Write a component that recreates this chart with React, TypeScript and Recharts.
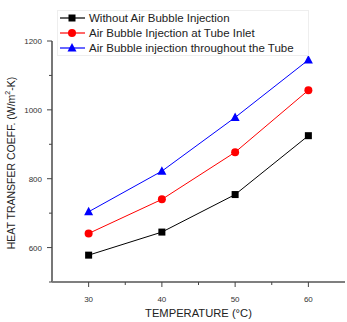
import React from "react";
import { LineChart, Line, XAxis, YAxis, Label } from "recharts";

const temps = [30, 40, 50, 60];
const withoutBubble = [578, 645, 754, 925];
const bubbleInlet = [641, 740, 877, 1057];
const bubbleThroughout = [704, 822, 978, 1145];

const xTicks = [30, 35, 40, 45, 50, 55, 60];
const yTicks = [500, 600, 700, 800, 900, 1000, 1100, 1200];

const seriesNames = [
  "Without Air Bubble Injection",
  "Air Bubble Injection at Tube Inlet",
  "Air Bubble injection throughout the Tube",
];

const data = temps.map((t, i) => ({
  t,
  a: withoutBubble[i],
  b: bubbleInlet[i],
  c: bubbleThroughout[i],
}));

const FONT = "Arial, 'Liberation Sans', sans-serif";

const Marker = ({ kind, cx, cy }: { kind: string; cx: number; cy: number }) => {
  if (kind === "square") return <rect x={cx - 3.5} y={cy - 3.5} width={7} height={7} fill="#000" />;
  if (kind === "circle") return <circle cx={cx} cy={cy} r={4} fill="#ff0000" />;
  return <polygon points={`${cx},${cy - 5} ${cx - 4.5},${cy + 3.5} ${cx + 4.5},${cy + 3.5}`} fill="#0000ff" />;
};

const dot = (kind: string) => (p: any) => <Marker key={`${kind}-${p.index}`} kind={kind} cx={p.cx} cy={p.cy} />;

const XTick = (p: any) => {
  const v = p.payload.value;
  const major = v % 10 === 0;
  return (
    <g>
      <line x1={p.x} x2={p.x} y1={p.y - 8} y2={p.y - 8 + (major ? 5 : 3)} stroke="#444" />
      {major && (
        <text x={p.x} y={p.y + 12} textAnchor="middle" fontSize={8} fill="#333" fontFamily={FONT}>{v}</text>
      )}
    </g>
  );
};

const YTick = (p: any) => {
  const v = p.payload.value;
  const major = v % 200 === 0 && v !== 500;
  return (
    <g>
      <line x1={p.x + 8} x2={p.x + 8 - (v % 200 === 0 ? 5 : 3)} y1={p.y} y2={p.y} stroke="#444" />
      {major && (
        <text x={p.x - 2} y={p.y + 3} textAnchor="end" fontSize={8} fill="#333" fontFamily={FONT}>{v}</text>
      )}
    </g>
  );
};

const YLabel = () => (
  <text transform="translate(15,163) rotate(-90)" textAnchor="middle" fontSize={10.5} fill="#222" fontFamily={FONT}>
    HEAT TRANSFER COEFF. (W/m
    <tspan dy={-5} fontSize={7}>2</tspan>
    <tspan dy={5}>-K)</tspan>
  </text>
);

const LegendBox = () => {
  const kinds = ["square", "circle", "triangle"];
  const colors = ["#000", "#ff0000", "#0000ff"];
  return (
    <svg width={250} height={44} style={{ border: "1px solid #eee", display: "block" }}>
      {seriesNames.map((n, i) => (
        <g key={n}>
          <line x1={2} x2={27} y1={7 + i * 15} y2={7 + i * 15} stroke={colors[i]} strokeWidth={1.2} />
          <Marker kind={kinds[i]} cx={14} cy={7 + i * 15} />
          <text x={31} y={11 + i * 15} fontSize={11.5} fill="#222" fontFamily={FONT}>{n}</text>
        </g>
      ))}
    </svg>
  );
};

export default function App() {
  return (
    <div style={{ position: "absolute", left: 0, top: 0, width: 347, height: 322, background: "#fff" }}>
      <LineChart width={347} height={322} data={data} margin={{ top: 41, right: 2, bottom: 0, left: 0 }}>
        <XAxis
          dataKey="t"
          type="number"
          domain={[25, 65]}
          ticks={xTicks}
          interval={0}
          tick={<XTick />}
          tickLine={false}
          height={40}
          axisLine={{ stroke: "#555", strokeWidth: 1.5 }}
        >
          <Label value="TEMPERATURE (°C)" position="insideBottom" offset={5} fontSize={11.2} fill="#222" fontFamily={FONT} />
        </XAxis>
        <YAxis
          type="number"
          domain={[500, 1200]}
          ticks={yTicks}
          interval={0}
          tick={<YTick />}
          tickLine={false}
          width={52}
          axisLine={{ stroke: "#777", strokeWidth: 2 }}
          label={<YLabel />}
        />
        <Line dataKey="a" stroke="#000" strokeWidth={1} dot={dot("square")} isAnimationActive={false} />
        <Line dataKey="b" stroke="#ff0000" strokeWidth={1} dot={dot("circle")} isAnimationActive={false} />
        <Line dataKey="c" stroke="#0000ff" strokeWidth={1} dot={dot("triangle")} isAnimationActive={false} />
      </LineChart>
      <div style={{ position: "absolute", left: 57, top: 10 }}>
        <LegendBox />
      </div>
    </div>
  );
}
